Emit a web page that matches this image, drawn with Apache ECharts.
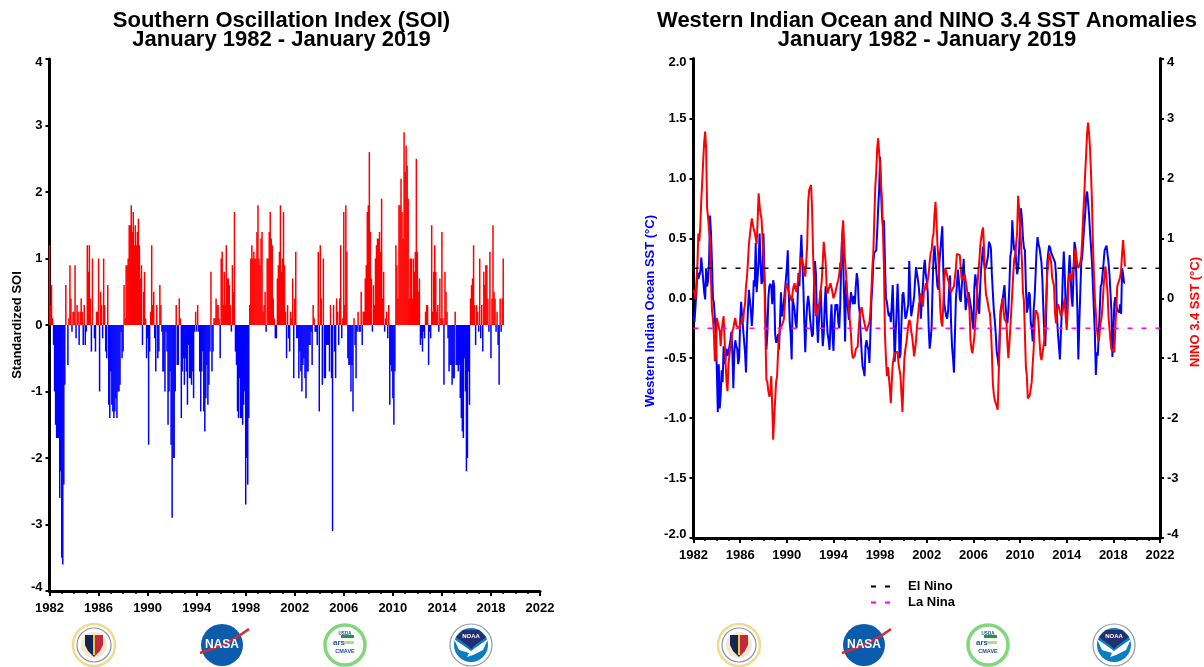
<!DOCTYPE html>
<html><head><meta charset="utf-8">
<style>html,body{margin:0;padding:0;background:#fff}#c{width:1204px;height:667px}</style>
<script src="https://cdn.jsdelivr.net/npm/echarts@6/dist/echarts.min.js"></script>
</head><body><div id="c"></div>
<script>
// Monthly values, January 1982 - January 2019, one row per year
const soiValues = [
1.2,.3,.6,.1,-.3,-1,-1.5,-1.7,-1.7,-1.7,-2.6,-2.2,
-3.5,-3.6,-2.4,-.9,.6,0,-.6,.1,.9,.4,-.1,.2,
.2,.9,-.2,.3,.2,-.3,.2,.4,.2,-.3,.3,-.3,
-.1,1.2,.8,1.2,.4,-.4,1,0,-.2,-.4,.2,.2,
1,-1,.5,.3,-.2,1,.3,-.4,-.5,.6,-1.2,-1.4,
-.7,-1.2,-1.3,-1.4,-1.3,-1.1,-1.4,-1,-1,-.9,-.1,-.5,
-.4,.6,.1,.9,.9,1,1.5,1.5,1.8,1.4,1.7,1.2,
1.5,1.2,1.4,1.6,1.2,.7,.9,-.3,.5,.8,.1,-.5,
-.2,-1.8,-.4,.2,1.2,.3,.5,-.2,-.7,.3,-.5,-.4,
.6,.3,-.1,-.7,-.7,-1,-.1,-.4,-1.5,-1,-.7,-1.8,
-2.9,-2,-2,-1,.3,-.6,-.6,.4,.1,-1.4,-.7,-.5,
-.9,-.5,-.7,-1.2,-.3,-.8,-.8,-.9,-.7,-1.1,-.1,.2,
-.1,.3,-.1,-.7,-1.3,-.7,-.4,-1.3,-1.6,-1.1,-.6,-1.2,
-.9,-.4,.8,-.7,-.4,.1,.1,.4,.3,.3,.1,-.5,
1,1.1,.3,.8,.3,1.2,.7,.7,.6,.3,-.1,.9,
.5,1.7,-.4,-.6,-1.3,-1.4,-.8,-1.4,-1.4,-1.5,-1.2,-1,
-2.7,-2,-2.4,-1.4,.3,1,1.2,1,1.1,1,1,1.4,
1.8,1,.9,1.3,1.4,.2,.3,.5,-.1,1,1,1.4,
1.7,1.3,1.2,.4,.1,-.2,-.2,.7,.9,1.1,1.8,.8,
1,1.7,.9,.2,-.5,.3,-.2,-.4,.2,.1,.7,-.8,
.4,1.1,-.2,-.2,-.8,-.4,-.7,-1,-.6,-.5,-.8,-1.1,
-.7,-.7,-.3,-.3,-.1,-.6,.3,.1,-.1,-.1,-.3,1.1,
-1.3,1.2,.4,-.9,1,-.8,-.8,-.3,-.3,-.3,-.7,.3,
-.8,-3.1,.3,-.4,-.8,.4,.2,-.3,.4,1.2,-.2,.1,
1.7,.3,1.8,1.1,-.5,-.6,-.6,-1,-.6,-1.3,.1,-.3,
-.8,-.1,.2,-.1,-.1,.5,-.3,.2,.2,.7,.9,1.7,
1.8,2.6,1.4,.7,-.1,.6,.3,1,1.2,1.3,1.3,1.4,
1.1,1.9,.4,.8,-.1,.1,.2,-.2,.3,-1.2,-.6,-.7,
-1.1,-1.5,-.7,1.2,.9,.4,1.8,1.8,2.2,1.7,1.3,2.9,
2.3,2.7,2.4,1.9,.4,1,1,.4,1,.8,1.1,2.5,
1.1,.5,.7,-.3,-.2,-.4,-.1,-.2,.2,.3,.3,-.6,
-.1,-.2,1.5,.2,.8,1.2,.8,.2,.3,-.1,.7,.1,
1.4,.1,-.9,.8,.5,.2,-.2,-.7,-.6,-.6,-.9,-.8,
-.8,.2,-.6,-.6,-.7,-.6,-1.1,-1.4,-1.6,-1.7,-.5,-1,
-2.2,-2,-.7,-1.2,.4,.6,.7,1.2,.3,-.3,.3,.2,
-.1,1,-.2,.3,-.4,.8,.6,.9,.9,.4,-.1,1.1,
-.5,.4,1.5,.5,.4,-.1,.2,-.3,-.9,.4,-.1,.4,
1];
const westIndianSst = [
-.15,-.2,-.2,.05,.22,.16,.16,.22,.34,.25,.15,.05,
-.01,.25,.1,.15,.3,.69,.54,.3,0,-.04,-.17,-.3,
-.6,-.95,-.55,-.92,-.8,-.6,-.7,-.4,-.55,-.5,-.42,-.48,
-.45,-.4,-.35,-.28,-.45,-.75,-.45,-.35,-.4,-.42,-.55,-.5,
-.2,-.03,-.15,-.25,-.35,-.45,-.62,-.3,-.1,.07,.07,-.1,
-.23,-.1,.15,.1,.46,.05,.05,.3,.54,.3,.12,.15,
.54,.2,-.1,-.43,-.3,0,.1,.12,.1,-.05,.15,.1,
-.3,-.37,-.35,-.3,-.43,-.2,.05,-.15,-.1,-.03,-.03,.15,
.25,.4,.05,-.2,-.3,-.51,0,0,-.1,-.2,-.25,-.05,
.21,.1,.35,.53,.3,.1,-.2,-.45,-.2,-.05,.02,-.05,
-.18,-.25,-.32,-.3,.1,.31,.2,-.2,-.37,-.2,0,.07,
-.2,-.4,-.3,-.05,.1,-.15,-.3,-.35,-.43,-.2,-.05,-.3,
-.44,-.2,-.05,-.1,-.05,-.2,-.25,-.05,.3,.54,.3,0,
-.36,.15,0,-.1,-.18,-.05,.05,0,-.05,.02,-.05,.1,
.21,.15,-.05,-.12,-.3,-.45,-.57,-.6,-.65,-.4,-.35,-.4,
-.43,-.54,-.3,-.03,.1,.3,.38,.38,.4,.55,.75,.9,
1.18,.9,.68,.6,.65,.3,0,-.03,-.1,-.15,-.12,-.2,
-.05,.11,-.2,-.53,-.3,-.1,.12,-.1,-.5,-.47,-.2,.03,
.05,-.05,-.17,-.15,-.15,-.05,.31,.05,-.15,-.15,-.05,.01,
.15,.26,.2,.15,.08,-.05,-.17,0,.1,.25,.32,.2,
.15,.05,-.25,-.42,-.35,-.24,.1,.35,.44,.32,.32,.1,
.07,.3,.4,.5,.6,.25,-.04,-.1,-.15,-.17,-.1,.08,
.19,-.2,-.4,-.5,-.62,-.3,0,.1,.24,.15,0,-.03,
.1,.2,.33,.1,-.1,-.1,.02,.05,.05,.05,-.1,-.2,
-.26,.1,.2,.21,.05,-.1,-.13,.1,.25,.35,.43,.3,
.24,.26,.27,.35,.47,.45,.42,.2,.05,-.1,-.18,-.3,
-.45,-.5,-.57,-.3,-.1,-.11,-.02,.05,.11,-.05,-.15,-.21,
-.1,.1,.35,.4,.65,.5,.4,.44,.3,.2,.25,.4,
.6,.75,.65,.5,.42,.4,.1,-.12,-.08,.05,.03,-.2,
-.25,-.36,-.1,.01,.2,.4,.51,.45,.42,.42,.3,.15,
-.1,-.3,-.4,-.1,.3,.38,.44,.42,.38,.36,.35,.32,
.3,.2,-.15,-.3,-.4,-.51,-.3,-.1,.2,.39,.2,-.1,
-.18,.05,.2,.36,.2,0,-.07,.2,.47,.42,.43,-.1,
-.51,-.2,.05,.3,.35,.48,.6,.7,.85,.89,.8,.7,
.55,.43,.3,.1,-.1,-.3,-.64,-.45,-.48,-.3,-.1,.1,
.12,.12,.3,.4,.42,.44,.44,.3,.2,.21,-.1,-.49,
-.3,-.05,.01,-.05,-.1,-.1,-.12,-.05,-.13,.25,.2,.13,
.13];
const nino34Sst = [
.14,.08,-.02,-.02,.55,1.08,.95,1.2,1.64,1.95,2.3,2.6,
2.78,2.5,1.5,1.35,1.14,1,.3,-.2,-.35,-.6,-1.05,-1,
-.33,-.35,-.36,-.55,-.8,-.55,-.4,-.3,-.7,-1.08,-1.4,-1.55,
-1.1,-.95,-.8,-.7,-.55,-.5,-.4,-.33,-.45,-.47,-.48,-.5,
-.5,-.4,-.3,-.4,-.2,-.1,.2,.35,.6,.9,1.05,1.2,
1.33,1.3,1.15,1.1,1,.9,1.3,1.75,1.55,1.4,1.33,1,
.7,.3,-.6,-1.36,-1.4,-1.55,-1.64,-1.6,-1.3,-1.8,-2.36,-2,
-1.7,-1.4,-1.3,-.9,-.65,-.5,-.47,-.45,-.4,-.35,-.1,.2,
.25,.25,.1,.08,0,-.05,.1,.2,.25,.15,.1,.25,
.25,.4,.55,.69,.7,.7,.5,.36,.6,.9,1.6,1.8,
1.85,1.89,1.5,.75,.3,-.1,-.3,-.18,-.1,-.2,0,.15,
.3,.6,.94,.94,.6,.2,.08,.15,.2,.25,.25,.1,
0,-.03,.1,.1,.25,.3,.4,.6,.5,1.1,1.3,.9,
.6,.4,.1,-.05,-.2,-.4,-.6,-.9,-1,-1,-.95,-.85,
-.85,-.8,-.5,-.3,-.2,-.15,-.14,-.35,-.42,-.5,-.55,-.58,
-.58,-.4,-.22,.1,.5,.75,1.3,1.85,2.1,2.5,2.67,2.67,
2.2,2.2,1.6,1.08,.5,-.6,-1,-1.3,-1.15,-1.3,-1.5,-1.75,
-1.4,-1.1,-1,-.92,-.9,-.9,-.89,-1.1,-1.2,-1.3,-1.6,-1.9,
-1.4,-1,-.85,-.75,-.6,-.45,-.36,-.4,-.55,-.64,-.8,-.97,
-.85,-.7,-.47,-.3,-.1,-.05,.08,-.05,-.14,.1,.15,.25,
.15,.3,.4,.6,.75,.8,1,1.08,1.4,1.61,1.3,.9,
.64,.2,-.2,-.4,-.47,-.1,.3,.5,.45,.42,.3,.25,
.14,.1,.14,.15,.2,.19,.5,.74,.73,.72,.72,.5,
.3,.28,.35,.4,.39,.2,.05,-.03,-.2,-.7,-.85,-.92,
-.92,-.64,-.4,-.2,.2,.4,.6,.86,1,1.12,1.18,.8,
.3,.05,0,-.1,-.2,-.25,-.5,-.9,-1.42,-1.6,-1.7,-1.75,
-1.8,-1.86,-1.3,-.75,-.3,-.1,0,-.2,-.35,-.35,-.4,-.75,
-1,-1,-.5,-.2,.1,.4,.65,.72,.75,1.1,1.71,1.5,
1.2,1.2,.6,.1,-.05,-.6,-1.14,-1.3,-1.67,-1.65,-1.62,-1.61,
-1.4,-1.1,-.85,-.4,-.2,-.2,-.25,-.4,-.7,-.95,-1.03,-1.05,
-1.05,-.7,-.3,0,.4,.6,.75,.72,.6,.35,.33,.2,
-.25,-.42,-.2,-.1,-.15,-.22,-.3,-.28,-.2,-.1,0,-.32,
-.53,-.2,.3,.42,.4,.3,.3,.5,.7,.83,.7,.55,
.5,.55,.6,.7,1,1.4,1.7,2.08,2.4,2.75,2.93,2.75,
2.5,2.1,1.6,.9,.4,0,-.25,-.5,-.65,-.72,-.55,-.4,
-.3,-.1,.2,.4,.53,.3,.1,-.3,-.5,-.7,-.85,-.85,
-.86,-.9,-.5,-.2,.2,.25,.3,.35,.47,.75,.97,.97,
.53];
const elNinoThreshold = 0.25;
const laNinaThreshold = -0.25;
const axisYears = [1982, 2022];
const soiTitle = ['Southern Oscillation Index (SOI)', 'January 1982 - January 2019'];
const sstTitle = ['Western Indian Ocean and NINO 3.4 SST Anomalies', 'January 1982 - January 2019'];

const FONT = '"Liberation Sans", Arial, sans-serif';
const yearOf = i => 1982 + i / 12;
const soiPos = soiValues.map((v, i) => [yearOf(i), v > 0 ? v : null]);
const soiNeg = soiValues.map((v, i) => [yearOf(i), v < 0 ? v : null]);
const sstPts = westIndianSst.map((v, i) => [yearOf(i), v]);
const ninoPts = nino34Sst.map((v, i) => [yearOf(i), v]);

const lbl = {color: '#000', fontFamily: FONT, fontWeight: 'bold', fontSize: 13};
const line = {show: true, onZero: false, lineStyle: {color: '#000', width: 3}};
const xAxis = g => ({
  type: 'value', gridIndex: g, min: axisYears[0], max: axisYears[1], interval: 4,
  position: 'bottom', axisLine: line,
  axisTick: {show: true, length: 5, lineStyle: {color: '#000', width: 2}},
  minorTick: {show: true, splitNumber: 4, length: 3, lineStyle: {color: '#000', width: 1.5}},
  splitLine: {show: false}, minorSplitLine: {show: false},
  axisLabel: {...lbl, margin: 11, showMinLabel: true, showMaxLabel: true,
    formatter: v => String(v)}
});
const yAxis = (g, min, max, interval, pos, fmt) => ({
  type: 'value', gridIndex: g, min, max, interval, position: pos,
  axisLine: line,
  axisTick: {show: true, length: 4, lineStyle: {color: '#000', width: 2}},
  splitLine: {show: false},
  axisLabel: {...lbl, margin: 7, lineHeight: 7, formatter: fmt, showMinLabel: true, showMaxLabel: true,
    verticalAlignMinLabel: 'bottom', verticalAlignMaxLabel: 'top'}
});

function logos(cx) {
  const cy = 645, out = [];
  const c = (x, r, fill, stroke, lw) => ({type: 'circle', silent: true, shape: {cx: x, cy, r},
    style: {fill, stroke: stroke || null, lineWidth: lw || 0}});
  const t = (x, y, text, size, fill, weight) => ({type: 'text', silent: true, x, y,
    style: {text, fontSize: size, fill, fontFamily: FONT, fontWeight: weight || 'bold', align: 'center', verticalAlign: 'middle'}});
  // Defense Health Agency seal
  let x = cx[0];
  out.push(c(x, 21, '#fff', '#f3d98b', 2.5), c(x, 17, '#fff', '#8a93a8', 1.2), c(x, 13, '#f6e7cf'));
  out.push({type: 'polygon', silent: true, shape: {points: [[x-9,cy-10],[x,cy-10],[x,cy+12],[x-6,cy+6],[x-9,cy]]}, style: {fill: '#14254f'}});
  out.push({type: 'polygon', silent: true, shape: {points: [[x,cy-10],[x+9,cy-10],[x+9,cy],[x+6,cy+6],[x,cy+12]]}, style: {fill: '#c5283d'}});
  out.push({type: 'rect', silent: true, shape: {x: x-1, y: cy-10, width: 2, height: 20}, style: {fill: '#e6c94a'}});
  // NASA meatball
  x = cx[1];
  out.push(c(x, 21, '#0b5cad'));
  out.push({type: 'bezierCurve', silent: true, shape: {x1: x-22, y1: cy+8, x2: x+27, y2: cy-16, cpx1: x-2, cpy1: cy+2, cpx2: x+14, cpy2: cy-6},
    style: {stroke: '#d8263a', lineWidth: 2.4, fill: null}});
  out.push(t(x, cy, 'NASA', 12, '#fff'));
  // USDA CMAVE
  x = cx[2];
  out.push(c(x, 20, '#fff', '#82d77c', 3.5));
  out.push({type: 'rect', silent: true, shape: {x: x-4, y: cy-10, width: 13, height: 3}, style: {fill: '#1b9a3c'}});
  out.push(t(x, cy-11, 'USDA', 4.5, '#1e4fa0'));
  out.push(t(x-6, cy-2, 'ars', 8, '#1e4fa0'));
  out.push({type: 'rect', silent: true, shape: {x: x-1, y: cy-4, width: 10, height: 3}, style: {fill: '#b8d98c'}});
  out.push(t(x, cy+6, 'CMAVE', 5.5, '#1e4fa0'));
  // NOAA
  x = cx[3];
  out.push(c(x, 21, '#fff', '#8d99ab', 1.2));
  out.push(c(x, 17, '#0a7cc2'));
  out.push({type: 'polygon', silent: true, shape: {points: [[x-15,cy-8],[x-8,cy-15],[x+8,cy-15],[x+15,cy-8],[x+3,cy+1],[x,cy+4],[x-3,cy+1]]}, style: {fill: '#22306f'}});
  out.push({type: 'polygon', silent: true, shape: {points: [[x-17,cy-6],[x-4,cy+3],[x,cy+6],[x+4,cy+3],[x+17,cy-6],[x+12,cy+5],[x+2,cy+10],[x-4,cy+12],[x-2,cy+8],[x-12,cy+5]]}, style: {fill: '#fff'}});
  out.push(t(x, cy-9, 'NOAA', 6, '#fff'));
  return out;
}

const axisName = (text, x, y, fill) => ({type: 'text', silent: true, x, y, rotation: Math.PI / 2,
  style: {text, fill, fontFamily: FONT, fontWeight: 'bold', fontSize: 13, align: 'center', verticalAlign: 'middle'}});

const titleBlock = (lines, cx) => lines.map((text, i) => ({
  left: cx, top: 10 + i * 18.5, textAlign: 'center', padding: 0,
  text, textStyle: {color: '#000', fontFamily: FONT, fontWeight: 'bold', fontSize: 22, lineHeight: 22}
}));

const chart = echarts.init(document.getElementById('c'), null, {renderer: 'canvas'});
chart.setOption({
  animation: false, backgroundColor: '#fff',
  title: [...titleBlock(soiTitle, 281.5), ...titleBlock(sstTitle, 927)],
  grid: [
    {left: 49.5, width: 490.5, top: 59, height: 532},
    {left: 693.5, width: 466.5, top: 58.5, height: 479.5}
  ],
  xAxis: [xAxis(0), xAxis(1)],
  yAxis: [
    yAxis(0, -4, 4, 1, 'left', v => String(v)),
    yAxis(1, -2, 2, 0.5, 'left', v => v.toFixed(1)),
    yAxis(1, -4, 4, 1, 'right', v => String(v))
  ],
  legend: {left: 870, top: 580, orient: 'vertical', itemWidth: 19, itemHeight: 8, itemGap: 3, padding: 0,
    data: ['El Nino', 'La Nina'],
    itemStyle: {color: 'transparent', borderColor: 'transparent', borderWidth: 0, opacity: 0},
    textStyle: {color: '#000', fontFamily: FONT, fontWeight: 'bold', fontSize: 13, padding: [0, 0, 0, 13]}},
  series: [
    {name: 'SOI positive', type: 'bar', xAxisIndex: 0, yAxisIndex: 0, data: soiPos, barWidth: 1.5, barGap: '-100%', itemStyle: {color: '#ff0000'}},
    {name: 'SOI negative', type: 'bar', xAxisIndex: 0, yAxisIndex: 0, data: soiNeg, barWidth: 1.5, barGap: '-100%', itemStyle: {color: '#0000ff'}},
    {name: 'Western Indian Ocean SST', type: 'line', xAxisIndex: 1, yAxisIndex: 1, data: sstPts, symbol: 'none', lineStyle: {color: '#0000ff', width: 2}, itemStyle: {color: '#0000ff'}},
    {name: 'NINO 3.4 SST', type: 'line', xAxisIndex: 1, yAxisIndex: 2, data: ninoPts, symbol: 'none', lineStyle: {color: '#ff0000', width: 2}, itemStyle: {color: '#ff0000'}},
    {name: 'El Nino', type: 'line', xAxisIndex: 1, yAxisIndex: 1, data: axisYears.map(y => [y, elNinoThreshold]), symbol: 'none', lineStyle: {color: '#000', width: 1.6, type: [5, 9]}, itemStyle: {color: '#000'}},
    {name: 'La Nina', type: 'line', xAxisIndex: 1, yAxisIndex: 1, data: axisYears.map(y => [y, laNinaThreshold]), symbol: 'none', lineStyle: {color: '#ff00ff', width: 1.6, type: [5, 9]}, itemStyle: {color: '#ff00ff'}}
  ],
  graphic: [
    axisName('Standardized SOI', 17, 325, '#000'),
    axisName('Western Indian Ocean SST (°C)', 650, 311, '#0000ff'),
    axisName('NINO 3.4 SST (°C)', 1195, 312, '#ff0000'),
    ...logos([94, 222, 345, 471]), ...logos([739, 864, 988, 1114])
  ]
});
</script></body></html>
